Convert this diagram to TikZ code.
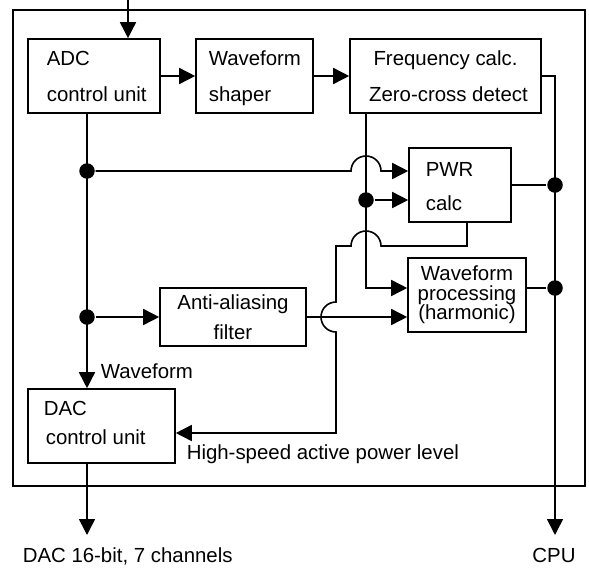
\documentclass[tikz,border=0pt]{standalone}
\usepackage{fontspec}
\setmainfont{Liberation Sans}
\usetikzlibrary{arrows.meta}
\begin{document}
\begin{tikzpicture}[x=1pt,y=-1pt,line width=1.6pt,
  box/.style={draw,rectangle,inner sep=0pt},
  txt/.style={font=\fontsize{20.4}{21}\selectfont,inner sep=0pt},
  arr/.style={-{Triangle[length=16pt,width=16pt]}},
  dot/.style={circle,fill,inner sep=0pt,minimum size=15.5pt}]
\useasboundingbox (0,0) rectangle (589,568);
% frame
\node[box,minimum width=572pt,minimum height=476pt] (frame) at (299,248) {};
% boxes
\node[box,minimum width=132pt,minimum height=74pt] (adc) at (94,76) {};
\node[box,minimum width=117pt,minimum height=74pt] (shp) at (254.5,76) {};
\node[box,minimum width=191pt,minimum height=74pt] (frq) at (445.5,76) {};
\node[box,minimum width=102pt,minimum height=74pt] (pwr) at (460,185) {};
\node[box,minimum width=146pt,minimum height=58pt] (aaf) at (233,317) {};
\node[box,minimum width=118pt,minimum height=74pt] (wfp) at (467,295) {};
\node[box,minimum width=147pt,minimum height=74pt] (dac) at (101.5,426) {};
% texts
\node[txt,anchor=base west] (t1) at (46,65) {ADC};
\node[txt,anchor=base west] (t2) at (46,101.5) {control unit};
\node[txt,anchor=base west] (t3) at (208,65) {Waveform};
\node[txt,anchor=base west] (t4) at (208,101.5) {shaper};
\node[txt,anchor=base west] (t5) at (372.7,65) {Frequency calc.};
\node[txt,anchor=base west] (t6) at (368.3,101.5) {Zero-cross detect};
\node[txt,anchor=base west] (t7) at (425,176.7) {PWR};
\node[txt,anchor=base west] (t8) at (425,210.7) {calc};
\node[txt,anchor=base] (t9) at (233,309.3) {Anti-aliasing};
\node[txt,anchor=base] (t10) at (233,339) {filter};
\node[txt,anchor=base] (t11) at (467,280) {Waveform};
\node[txt,anchor=base] (t12) at (467,300) {processing};
\node[txt,anchor=base] (t13) at (467,319.5) {(harmonic)};
\node[txt,anchor=base west] (t14) at (43,415.7) {DAC};
\node[txt,anchor=base west] (t15) at (45,444) {control unit};
\node[txt,anchor=base west] (t16) at (100,378) {Waveform};
\node[txt,anchor=base west] (t17) at (186,459.3) {High-speed active power level};
\node[txt,anchor=base west] (t18) at (22,562.7) {DAC 16-bit, 7 channels};
\node[txt,anchor=base] (t19) at (554,562.7) {CPU};
% junctions
\node[dot] (j1) at (87,171) {};
\node[dot] (j2) at (87,317) {};
\node[dot] (j3) at (366,200) {};
\node[dot] (j4) at (555,288) {};
\node[dot] (j5) at (555,185) {};
% free ends
\coordinate (in) at (128,0);
\coordinate (cpu) at (555,535);
\coordinate (dacout) at (87,535);
\coordinate (fbk) at (336,246);
% connectors
\draw[arr] (in) -- (in |- adc.north);
\draw[arr] (adc.east) -- (shp.west);
\draw[arr] (shp.east) -- (frq.west);
\draw[arr] (frq.east) -| (cpu);
\draw[arr] (j1 |- adc.south) -- (j1 |- dac.north);
\draw[arr] (j1) -- (351,171) arc[start angle=180,end angle=0,radius=15pt] -- (pwr.west |- j1);
\draw[arr] (j3 |- frq.south) |- (wfp.west |- j4);
\draw[arr] (j3) -- (pwr.west |- j3);
\draw (pwr.east) -- (j5);
\draw (wfp.east |- j4) -- (j4);
\draw[arr] (j2) -- (aaf.west);
\draw[arr] (aaf.east) -- (wfp.west |- aaf.east);
\draw[arr] ([xshift=7pt]pwr.south) |- (381,246) arc[start angle=0,end angle=180,radius=15pt] -- (fbk) -- (336,302) arc[start angle=90,end angle=270,radius=15pt] |- ([yshift=-7pt]dac.east);
\draw[arr] (dacout |- dac.south) -- (dacout);
\end{tikzpicture}
\end{document}
